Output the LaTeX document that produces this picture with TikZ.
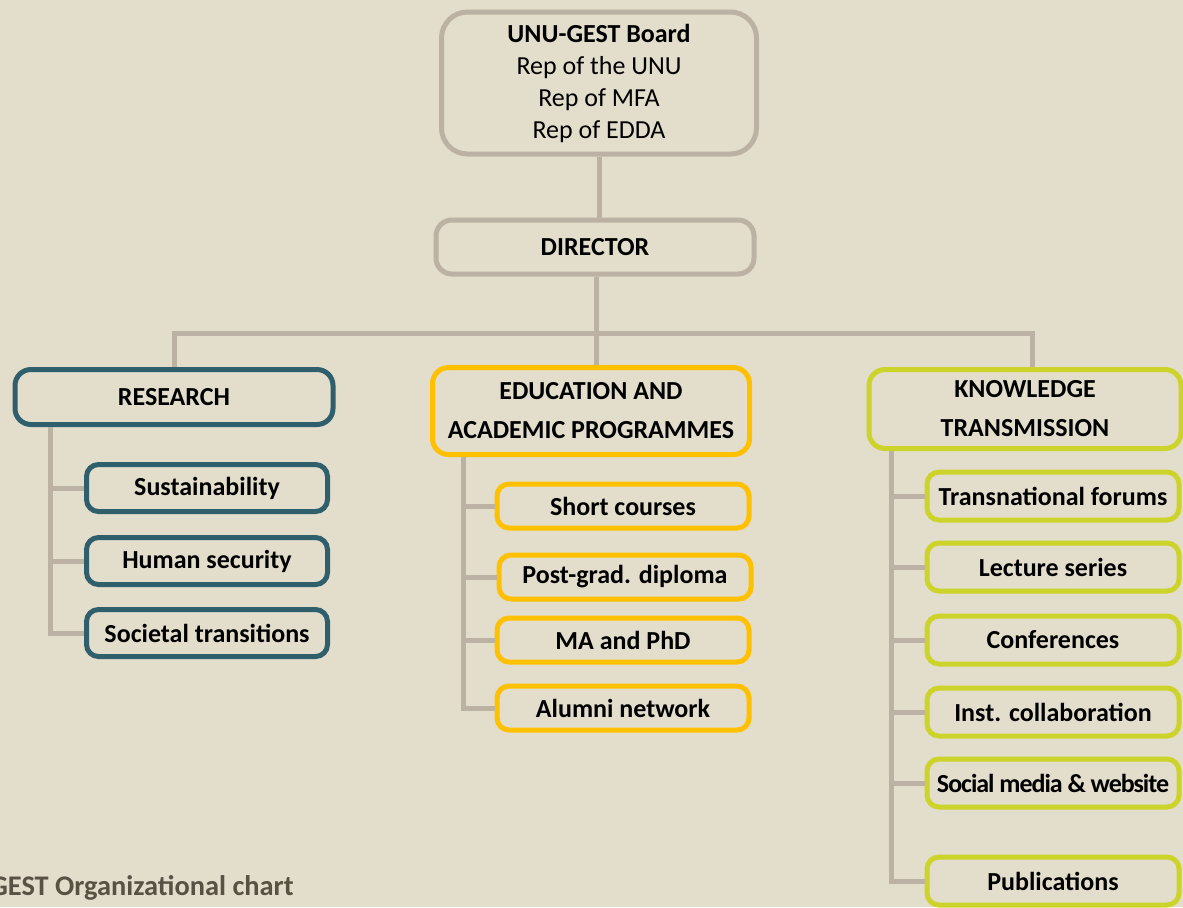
\documentclass[tikz,border=0pt]{standalone}
\usepackage{fontspec}
\setmainfont{Carlito}
\usetikzlibrary{positioning}
\definecolor{unubg}{HTML}{E3DDCB}
\definecolor{unulink}{HTML}{BBB2A3}
\definecolor{unuteal}{HTML}{2F5F6D}
\definecolor{unugold}{HTML}{FFC000}
\definecolor{unulime}{HTML}{CCD32A}
\definecolor{unucaption}{HTML}{5A5145}
\tikzset{
  unit/.style={
    draw=unulink,
    line width=2.5pt,
    rounded corners=7pt,
    align=center,
    font=\bfseries\fontsize{13}{16}\selectfont,
    text=black,
    inner sep=2pt
  },
  board/.style={unit, rounded corners=13pt, font=\fontsize{13}{16}\selectfont,
    minimum width=157.5pt, minimum height=71pt},
  head/.style={unit, rounded corners=8pt, minimum width=159pt,
    font=\bfseries\fontsize{13}{19.5}\selectfont},
  research/.style={unit, draw=unuteal, rounded corners=6pt,
    minimum width=120.5pt, minimum height=23.5pt},
  edu/.style={unit, draw=unugold, rounded corners=6pt,
    minimum width=126pt, minimum height=22pt},
  know/.style={unit, draw=unulime, rounded corners=6pt,
    minimum width=126pt, minimum height=24pt},
  link/.style={draw=unulink, line width=2.5pt}
}

\begin{document}
\begin{tikzpicture}[x=0.5pt,y=-0.5pt]

\fill[unubg] (0,0) rectangle (1183,907);
\useasboundingbox (0,0) rectangle (1183,907);

% top of the chart
\node[board] (board) at (599,83)
  {\textbf{UNU-GEST Board}\\Rep of the UNU\\Rep of MFA\\Rep of EDDA};
\node[head, minimum height=27pt] (director) at (595,247) {DIRECTOR};

% three departments
\node[head, draw=unuteal, minimum height=27.5pt] (research) at (174,397) {RESEARCH};
\node[head, draw=unugold, minimum width=158.5pt, minimum height=43.5pt] (edu) at (591,411)
  {EDUCATION AND\\ACADEMIC PROGRAMMES};
\node[head, draw=unulime, minimum width=156pt, minimum height=39.5pt] (know) at (1025,409)
  {KNOWLEDGE\\TRANSMISSION};

\coordinate (bus) at (596,333);
\coordinate (busend) at (1032,333);
\draw[link] (board.south) -- (board.south |- director.north);
\draw[link] (director.south -| bus) -- (bus);
\draw[link] (research.north) |- (busend) -- (busend |- know.north);
\draw[link] (bus) -- (bus |- edu.north);

% research
\node[research] (sust) at (207,488) {Sustainability};
\node[research] (human) at (207,561) {Human security};
\node[research] (societal) at (207,633) {Societal transitions};

% education
\node[edu] (short) at (623,506) {Short courses};
\node[edu] (postgrad) at (625,577) {Post-grad. diploma};
\node[edu] (phd) at (623,640) {MA and PhD};
\node[edu] (alumni) at (623,708) {Alumni network};

% knowledge transmission
\node[know] (forums) at (1053,496) {Transnational forums};
\node[know] (lectures) at (1053,567) {Lecture series};
\node[know] (conf) at (1053,640) {Conferences};
\node[know] (collab) at (1053,712) {Inst. collaboration};
\node[know] (social) at (1053,783)
  {\addfontfeature{LetterSpace=-4}Social media \& website};
\node[know] (pubs) at (1053,881) {Publications};

\coordinate (rtrunk) at (50,427);
\coordinate (etrunk) at (463,457);
\coordinate (ktrunk) at (891,451);

\draw[link] (rtrunk |- research.south) |- (societal.west);
\foreach \n in {sust,human}
  \draw[link] (rtrunk |- \n.west) -- (\n.west);

\draw[link] (etrunk |- edu.south) |- (alumni.west);
\foreach \n in {short,postgrad,phd}
  \draw[link] (etrunk |- \n.west) -- (\n.west);

\draw[link] (ktrunk |- know.south) |- (pubs.west);
\foreach \n in {forums,lectures,conf,collab,social}
  \draw[link] (ktrunk |- \n.west) -- (\n.west);

% caption, cut by the page edge as in the source
\node[anchor=base east, inner sep=0pt, text=unucaption,
  font=\bfseries\fontsize{14.2}{17}\selectfont] (caption) at (294,895)
  {UNU-GEST Organizational chart};

\end{tikzpicture}
\end{document}
